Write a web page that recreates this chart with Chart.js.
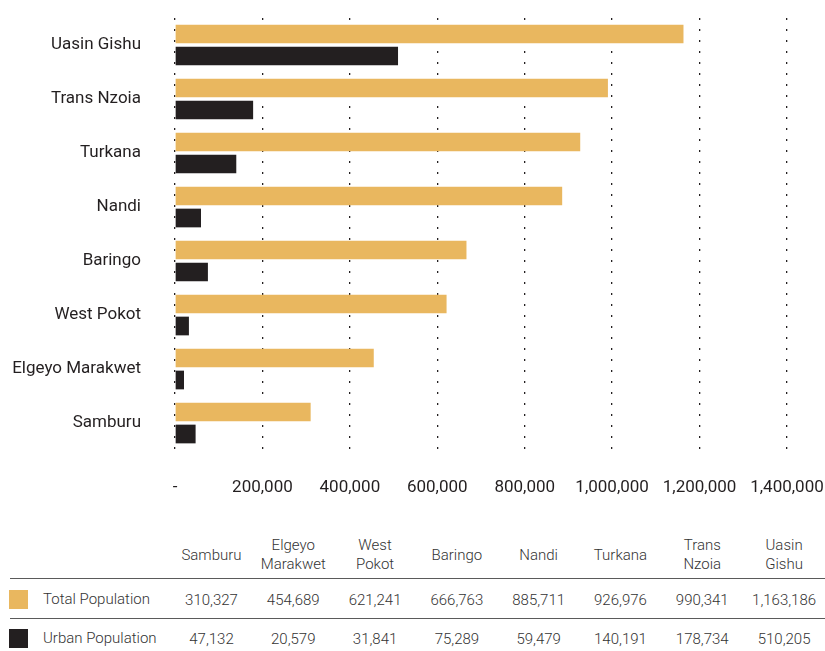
<!DOCTYPE html>
<html>
<head>
<meta charset="utf-8">
<script src="https://cdn.jsdelivr.net/npm/chart.js@4.4.1/dist/chart.umd.min.js"></script>
<style>
  html, body { margin: 0; padding: 0; background: #ffffff; }
  body { width: 825px; height: 651px; position: relative; overflow: hidden;
         font-family: "Roboto", sans-serif; }
  #wrap { position: absolute; left: 0; top: 0; width: 825px; height: 515px; }
  #tbl { position: absolute; left: 10px; top: 530px; width: 815px; border-collapse: collapse;
         table-layout: fixed; color: #333333; font-size: 15px; font-weight: 300; }
  #tbl td, #tbl th { padding: 0; text-align: center; font-weight: 300; }
  #tbl thead th { height: 46px; vertical-align: middle; line-height: 19px; padding-top: 2px; }
  #tbl tbody tr { height: 40px; }
  #tbl tbody tr td { border-top: 1.5px solid #5a5a5a; }
  #tbl tbody tr:first-child td { padding-top: 3px; }
  #tbl td.lab { text-align: left; white-space: nowrap; }
  .sw { display: inline-block; width: 19px; height: 19px; vertical-align: middle; margin-right: 15px; margin-left: -1px; position: relative; top: -1px; }
</style>
</head>
<body>
<div id="wrap"><canvas id="c"></canvas></div>
<table id="tbl">
  <colgroup id="cols"></colgroup>
  <thead><tr id="hdr"></tr></thead>
  <tbody id="body"></tbody>
</table>
<script>
// ---- data ----
const categories = ['Uasin Gishu', 'Trans Nzoia', 'Turkana', 'Nandi', 'Baringo', 'West Pokot', 'Elgeyo Marakwet', 'Samburu'];
const totalPopulation = [1163186, 990341, 926976, 885711, 666763, 621241, 454689, 310327];
const urbanPopulation = [510205, 178734, 140191, 59479, 75289, 31841, 20579, 47132];
const seriesNames = ['Total Population', 'Urban Population'];
const seriesColors = ['#E9B75F', '#231F20'];
const xTicks = [0, 200000, 400000, 600000, 800000, 1000000, 1200000, 1400000];

const fmt = v => v === 0 ? '-' : v.toLocaleString('en-US');
const FONT = '"Roboto", sans-serif';

new Chart(document.getElementById('c'), {
  type: 'bar',
  data: {
    labels: categories,
    datasets: [
      { label: seriesNames[0], data: totalPopulation, backgroundColor: seriesColors[0],
        categoryPercentage: 0.815, barPercentage: 0.85 },
      { label: seriesNames[1], data: urbanPopulation, backgroundColor: seriesColors[1],
        categoryPercentage: 0.815, barPercentage: 0.85 }
    ]
  },
  options: {
    indexAxis: 'y',
    responsive: true,
    maintainAspectRatio: false,
    animation: false,
    layout: { padding: { top: 18, right: 38, bottom: 0, left: 0 } },
    plugins: { legend: { display: false }, tooltip: { enabled: false } },
    scales: {
      y: {
        grid: { display: false, drawTicks: false },
        border: { display: false },
        ticks: { padding: 34, color: '#231F20', font: { family: FONT, size: 17, weight: '400' } },
        afterFit: s => { s.width = 175; s.paddingTop = 0; s.paddingBottom = 0; }
      },
      x: {
        min: 0, max: 1400000,
        afterBuildTicks: s => { s.ticks = xTicks.map(v => ({ value: v })); },
        grid: { color: '#231F20', lineWidth: 1.3, drawTicks: false },
        border: { display: false, dash: [2, 9] },
        ticks: { padding: 28, color: '#231F20', maxRotation: 0, autoSkip: false,
                 font: { family: FONT, size: 17, weight: '400' }, callback: v => fmt(v) },
        afterFit: s => { s.height = 65; s.paddingLeft = 0; s.paddingRight = 0; }
      }
    }
  }
});

// ---- data table (built from the same arrays) ----
const order = categories.map((c, i) => i).reverse();
const cols = document.getElementById('cols');
const labelCol = document.createElement('col'); labelCol.style.width = '160px'; cols.appendChild(labelCol);
order.forEach(() => { const c = document.createElement('col'); c.style.width = '81.5px'; cols.appendChild(c); });
const hdr = document.getElementById('hdr');
hdr.appendChild(document.createElement('th'));
order.forEach(i => {
  const th = document.createElement('th');
  th.innerHTML = categories[i].split(' ').join('<br>');
  hdr.appendChild(th);
});
const body = document.getElementById('body');
[totalPopulation, urbanPopulation].forEach((arr, si) => {
  const tr = document.createElement('tr');
  const lab = document.createElement('td'); lab.className = 'lab';
  const sw = document.createElement('span'); sw.className = 'sw'; sw.style.background = seriesColors[si];
  lab.appendChild(sw); lab.appendChild(document.createTextNode(seriesNames[si]));
  tr.appendChild(lab);
  order.forEach(i => { const td = document.createElement('td'); td.textContent = fmt(arr[i]); tr.appendChild(td); });
  body.appendChild(tr);
});
</script>
</body>
</html>
